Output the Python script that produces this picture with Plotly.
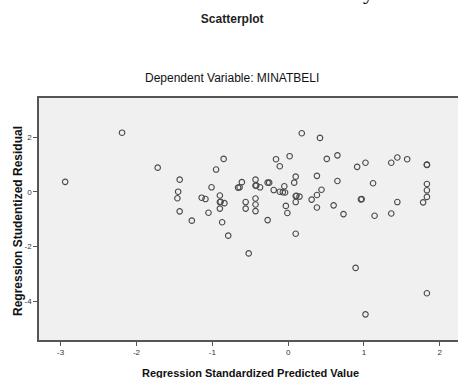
import plotly.graph_objects as go

# Regression standardized predicted value (x) and studentized residual (y)
pred = [-2.94, -2.19, -1.72, -0.85, -0.95, -1.43, -0.61, -0.66, -0.64, -1.45,
        -1.46, -1.01, -1.14, -1.09, -0.90, -0.90, -0.89, -0.84, -0.90, -0.56,
        -0.56, -1.43, -1.05, -1.27, -0.87, -0.79, -0.52,
        0.18, 0.42, -0.16, 0.02, -0.11, 0.51, 0.65, 0.91, 1.02, 1.36,
        1.44, 1.57, 1.83, 1.83, -0.43, -0.43, -0.42, -0.37, -0.27, -0.25,
        -0.19, -0.11, -0.07, -0.04, -0.05, 0.08, 0.10, 0.10, 0.11, 0.15,
        0.10, -0.03, -0.01, -0.43, -0.43, -0.43, -0.27, 0.10, 0.38, 0.44,
        0.38, 0.31, 0.38, 0.65, 0.60, 0.73, 0.96, 0.97, 1.12, 1.14, 1.36,
        1.44, 1.78, 1.83, 1.83, 1.83, 0.89, 1.02, 1.83]
resid = [0.37, 2.17, 0.89, 1.21, 0.82, 0.45, 0.36, 0.16, 0.17, 0.01,
         -0.23, 0.17, -0.21, -0.26, -0.13, -0.37, -0.36, -0.41, -0.61, -0.37,
         -0.61, -0.71, -0.76, -1.05, -1.11, -1.60, -2.25,
         2.15, 1.98, 1.20, 1.31, 0.94, 1.21, 1.34, 0.92, 1.07, 1.07,
         1.26, 1.20, 0.99, 1.00, 0.45, 0.23, 0.24, 0.17, 0.34, 0.34,
         0.07, 0.01, -0.01, -0.02, 0.21, 0.34, 0.56, -0.15, -0.14, -0.17,
         -0.37, -0.51, -0.77, -0.24, -0.46, -0.70, -1.03, -1.53, 0.59, 0.08,
         -0.11, -0.28, -0.57, 0.40, -0.49, -0.81, -0.27, -0.26, 0.32, -0.87, -0.79,
         -0.37, -0.38, 0.29, 0.06, -0.18, -2.78, -4.48, -3.71]

x_ticks = [-3, -2, -1, 0, 1, 2]
y_ticks = [-4, -2, 0, 2]

FONT = "Liberation Sans, Arial, sans-serif"

fig = go.Figure()
fig.add_trace(go.Scatter(
    x=pred, y=resid, mode="markers",
    marker=dict(symbol="circle-open", size=5.5, color="#4a4a4a",
                line=dict(width=1.1, color="#4a4a4a")),
    hoverinfo="x+y", showlegend=False,
))

fig.update_layout(
    width=458, height=378,
    margin=dict(l=39, r=0, t=98, b=38),
    paper_bgcolor="white",
    plot_bgcolor="#f0f0f0",
    font=dict(family=FONT, color="#222"),
    title=dict(text="<b>Scatterplot</b>", x=0.507, xanchor="center",
               y=1 - 19 / 378, yanchor="middle", yref="container",
               font=dict(size=12, color="#222", family=FONT)),
    xaxis=dict(range=[-3.285, 2.24], tickvals=x_ticks,
               ticktext=[str(v) for v in x_ticks],
               showgrid=False, zeroline=False, automargin=False,
               showline=True, linecolor="#555", linewidth=1.6, mirror=True,
               ticks="outside", ticklen=4, tickcolor="#555", tickwidth=1,
               tickfont=dict(size=8, color="#333")),
    yaxis=dict(range=[-5.42, 3.44], tickvals=y_ticks,
               ticktext=[str(v) for v in y_ticks],
               showgrid=False, zeroline=False, automargin=False,
               showline=True, linecolor="#555", linewidth=1.6, mirror=False,
               ticks="outside", ticklen=4, tickcolor="#555", tickwidth=1,
               tickfont=dict(size=8, color="#333")),
    annotations=[
        dict(text="Dependent Variable: MINATBELI", xref="paper", yref="paper",
             x=(232 - 39) / 419, y=(340 - 78) / 242, xanchor="center",
             yanchor="middle", showarrow=False,
             font=dict(size=12, color="#111", family=FONT)),
        dict(text="<b>Regression Standardized Predicted Value</b>",
             xref="paper", yref="paper",
             x=(250 - 39) / 419, y=(340 - 372.5) / 242, xanchor="center",
             yanchor="middle", showarrow=False,
             font=dict(size=11, color="#111", family=FONT)),
        dict(text="<b>Regression Studentized Residual</b>",
             xref="paper", yref="paper", textangle=-90,
             x=(18 - 39) / 419, y=(340 - 221) / 242, xanchor="center",
             yanchor="middle", showarrow=False,
             font=dict(size=12, color="#111", family=FONT)),
        dict(text="y", xref="paper", yref="paper",
             x=(368 - 39) / 419, y=(340 + 9) / 242, xanchor="center",
             yanchor="middle", showarrow=False,
             font=dict(size=22, color="#000",
                       family="Liberation Serif, Times New Roman, serif")),
    ],
)

fig.write_html("out.html",
               config={"displayModeBar": False},
               post_script="document.body.style.margin='0';"
                           "document.body.style.overflow='hidden';")
